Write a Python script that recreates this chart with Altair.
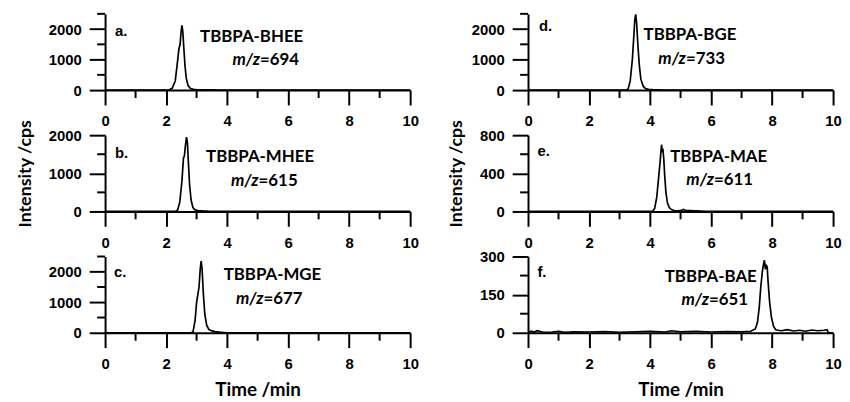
import altair as alt
import pandas as pd

# ---------------- data ----------------
x_major = [0, 2, 4, 6, 8, 10]
x_minor = [1, 3, 5, 7, 9]

panel_labels = ["a.", "b.", "c.", "d.", "e.", "f."]
compounds = ["TBBPA-BHEE", "TBBPA-MHEE", "TBBPA-MGE", "TBBPA-BGE", "TBBPA-MAE", "TBBPA-BAE"]
mz_values = ["=694", "=615", "=677", "=733", "=611", "=651"]

y_domains = [[0, 2500], [0, 2000], [0, 2500], [0, 2500], [0, 800], [0, 300]]
y_major = [[0, 1000, 2000], [0, 1000, 2000], [0, 1000, 2000], [0, 1000, 2000], [0, 400, 800], [0, 150, 300]]
y_minor = [[500, 1500, 2500], [500, 1500], [500, 1500, 2500], [500, 1500, 2500], [200, 600], [75, 225]]

a_time = [0, 1.0, 2.0, 2.1, 2.2, 2.3, 2.36, 2.42, 2.46, 2.49, 2.52, 2.55, 2.58, 2.62, 2.66, 2.72, 2.8, 2.9, 3.0, 3.3, 3.6, 3.7, 5, 7, 10]
a_int = [0, 0, 0, 10, 60, 300, 800, 1350, 1500, 1900, 2120, 1900, 1400, 800, 400, 150, 50, 25, 15, 10, 8, 0, 0, 0, 0]

b_time = [0, 2.0, 2.3, 2.38, 2.45, 2.52, 2.57, 2.6, 2.63, 2.67, 2.7, 2.73, 2.77, 2.82, 2.88, 2.95, 3.05, 3.2, 3.35, 3.4, 10]
b_int = [0, 0, 0, 40, 250, 800, 1400, 1450, 1700, 1950, 1800, 1300, 700, 300, 100, 40, 25, 15, 10, 0, 0]

c_time = [0, 2.8, 2.88, 2.95, 3.0, 3.04, 3.08, 3.12, 3.15, 3.18, 3.22, 3.27, 3.33, 3.4, 3.5, 3.6, 3.75, 3.9, 4.0, 10]
c_int = [0, 0, 20, 400, 1000, 1250, 1500, 2100, 2350, 2100, 1300, 600, 250, 110, 60, 40, 20, 10, 0, 0]

d_time = [0, 3.2, 3.28, 3.35, 3.42, 3.47, 3.5, 3.53, 3.56, 3.6, 3.65, 3.7, 3.78, 3.85, 3.95, 4.1, 4.3, 4.4, 10]
d_int = [0, 0, 30, 300, 1000, 1800, 2300, 2480, 2200, 1500, 800, 350, 120, 50, 25, 15, 8, 0, 0]

e_time = [0, 4.08, 4.15, 4.22, 4.28, 4.33, 4.36, 4.38, 4.4, 4.42, 4.45, 4.48, 4.52, 4.57, 4.63, 4.7, 4.8, 4.9, 5.0, 5.05, 5.1, 5.15, 5.3, 5.5, 5.7, 5.8, 10]
e_int = [0, 0, 30, 150, 350, 520, 640, 700, 620, 660, 550, 380, 200, 90, 40, 20, 10, 5, 8, 15, 20, 10, 8, 5, 3, 0, 0]

f_time = [0, 0.1, 0.2, 0.3, 0.5, 0.8, 1.0, 1.2, 1.5, 2.0, 2.5, 3.0, 3.5, 4.0, 4.5, 4.7, 5.0, 5.5, 6.0, 6.5, 7.0, 7.3,
          7.45, 7.52, 7.58, 7.63, 7.68, 7.72, 7.75, 7.78, 7.81, 7.84, 7.87, 7.92, 7.98, 8.05, 8.12, 8.2, 8.3, 8.5,
          8.7, 8.9, 9.1, 9.3, 9.5, 9.7, 9.8, 9.85, 10]
f_int = [0, 6, 3, 8, 2, 3, 6, 2, 4, 3, 5, 2, 4, 6, 3, 8, 4, 6, 3, 5, 4, 6,
         15, 40, 100, 180, 240, 270, 285, 250, 265, 260, 200, 120, 60, 25, 12, 10, 8, 12,
         7, 10, 6, 11, 8, 10, 12, 0, 0]

series_time = [a_time, b_time, c_time, d_time, e_time, f_time]
series_int = [a_int, b_int, c_int, d_int, e_int, f_int]

# ---------------- layout / style ----------------
W, H = 308, 77
label_pos = [(10, 22), (10, 23), (9, 21), (11, 17), (9.5, 21.5), (9.5, 20.5)]
name_pos = [(148, 28), (156.5, 26.7), (169, 24.2), (163.5, 26.8), (192.5, 26.7), (184.5, 25.7)]
mz_pos = [(156.5, 51.8), (155, 51), (160, 48.2), (159.4, 50.8), (187.7, 50), (182.7, 49)]
y_titles = [None, "Intensity /cps", None, None, "Intensity /cps", None]
x_titles = [None, None, "Time /min", None, None, "Time /min"]

TXT_FONT = "Lato"
TICK_FONT = "Liberation Sans"
INK = "#000000"
LW = 1.7
AXW = 2


def text_layer(s, x, y, align, font, size, style="normal"):
    return alt.Chart(pd.DataFrame({"s": [s]})).mark_text(
        align=align, baseline="alphabetic", font=font, fontSize=size,
        fontWeight="bold", fontStyle=style, color=INK
    ).encode(text="s:N", x=alt.value(x), y=alt.value(y))


def panel(k):
    xs = alt.Scale(domain=[0, 10], nice=False, zero=False)
    ys = alt.Scale(domain=y_domains[k], nice=False)
    x_enc = alt.X("t:Q", scale=xs, title=x_titles[k],
                  axis=alt.Axis(values=x_major, format="d", ticks=True, tickSize=15, tickColor=INK,
                                tickWidth=AXW, tickOpacity=1, labelPadding=9, titlePadding=9,
                                titleFontSize=19))
    y_enc = alt.Y("i:Q", scale=ys, title=y_titles[k],
                  axis=alt.Axis(values=y_major[k], format="d", ticks=True, tickSize=16, tickColor=INK,
                                tickWidth=AXW, tickOpacity=1, labelPadding=8, titlePadding=14,
                                titleFontSize=18))
    df = pd.DataFrame({"t": series_time[k], "i": series_int[k]})
    line = alt.Chart(df).mark_line(color=INK, strokeWidth=LW).encode(x=x_enc, y=y_enc)
    xmin = alt.Chart(pd.DataFrame({"t": x_minor})).mark_rule(color=INK, strokeWidth=AXW).encode(
        x=x_enc, y=alt.value(H), y2=alt.value(H + 8))
    ymin = alt.Chart(pd.DataFrame({"i": y_minor[k]})).mark_rule(color=INK, strokeWidth=AXW).encode(
        y=y_enc, x=alt.value(0), x2=alt.value(-8))
    lab = text_layer(panel_labels[k], label_pos[k][0], label_pos[k][1], "left", TICK_FONT, 15)
    name = text_layer(compounds[k], name_pos[k][0], name_pos[k][1], "center", TXT_FONT, 17)
    mz1 = text_layer("m/z", mz_pos[k][0], mz_pos[k][1], "right", TXT_FONT, 17, "italic")
    mz2 = text_layer(mz_values[k], mz_pos[k][0], mz_pos[k][1], "left", TXT_FONT, 17)
    return alt.layer(line, xmin, ymin, lab, name, mz1, mz2).properties(width=W, height=H)


order = [0, 3, 1, 4, 2, 5]
chart = alt.concat(
    *[panel(k) for k in order], columns=2, bounds="flush",
    spacing={"row": 45.5, "column": 119}
).properties(
    padding={"left": 8, "top": 0, "right": 0, "bottom": 0}
).configure_view(
    stroke="transparent"
).configure_axis(
    grid=False, domainColor=INK, domainWidth=AXW,
    labelColor=INK, labelFont=TICK_FONT, labelFontSize=15, labelFontWeight="bold",
    labelFlush=False, labelOverlap=False,
    titleColor=INK, titleFont=TXT_FONT, titleFontWeight="bold",
)

chart.save("out.html", embed_options={"renderer": "svg", "actions": False})
